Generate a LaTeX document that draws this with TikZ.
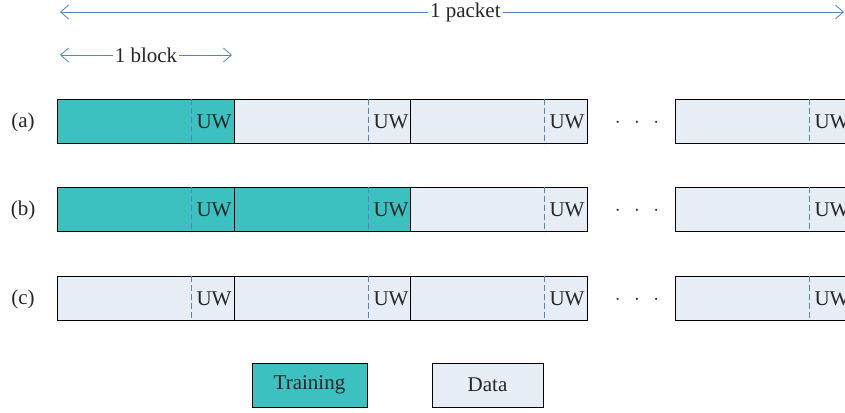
\documentclass[tikz,border=0pt]{standalone}
\usepackage{fontspec}
\setmainfont{Liberation Serif}
\usetikzlibrary{arrows.meta}
\definecolor{trainteal}{RGB}{60,192,192}
\definecolor{datablue}{RGB}{230,237,245}
\definecolor{dimblue}{RGB}{86,131,192}
\tikzset{
  blk/.style={draw=black, line width=1pt, minimum width=177pt, minimum height=44pt, inner sep=0pt, anchor=west},
  uwline/.style={draw=dimblue, line width=0.9pt, dash pattern=on 6pt off 3pt},
  dimarrow/.style={draw=dimblue, line width=0.8pt, {Straight Barb[length=8pt,width=14pt]}-{Straight Barb[length=8pt,width=14pt]}},
  dimlabel/.style={fill=white, inner sep=2pt, text=black!85},
  legend/.style={draw=black, line width=1pt, minimum height=44pt, inner sep=0pt, text=black!85}
}
\begin{document}
\begin{tikzpicture}[x=1pt, y=-1pt, font=\fontsize{21}{25}\selectfont]
  \useasboundingbox (0,0) rectangle (845,412);
  \clip (0,0) rectangle (845,412);
  % dimension arrows
  \coordinate (pktL) at (60,12);
  \coordinate (pktR) at (844,12);
  \coordinate (blkL) at (60,55);
  \coordinate (blkR) at (232,55);
  \draw[dimarrow] (pktL) -- (pktR) node[pos=0.517, dimlabel]{1 packet};
  \draw[dimarrow] (blkL) -- (blkR) node[midway, dimlabel]{1 block};
  % three rows of blocks
  \foreach \row/\y/\nt in {a/121/1, b/209/2, c/298/0} {
    \node[text=black!85] (lab\row) at (23,\y+1) {(\row)};
    \foreach \k/\x in {1/57, 2/234, 3/410, 4/675} {
      \ifnum\k>\nt \def\fc{datablue}\else\def\fc{trainteal}\fi
      \node[blk, fill=\fc] (\row\k) at (\x,\y) {};
      \draw[uwline] ([xshift=-44pt]\row\k.north east) -- ([xshift=-44pt]\row\k.south east);
      \node[text=black!85] (uw\row\k) at ([xshift=-21pt,yshift=-1pt]\row\k.east) {UW};
    }
    \node[text=black!85] (dots\row) at (637,\y+2) {$\cdot\hspace{9pt}\cdot\hspace{9pt}\cdot$};
  }
  % legend
  \node[legend, fill=trainteal, minimum width=115pt] (train) at (309.5,385) {Training};
  \node[legend, fill=datablue, minimum width=111pt] (data) at (487.5,385) {Data};
\end{tikzpicture}
\end{document}
